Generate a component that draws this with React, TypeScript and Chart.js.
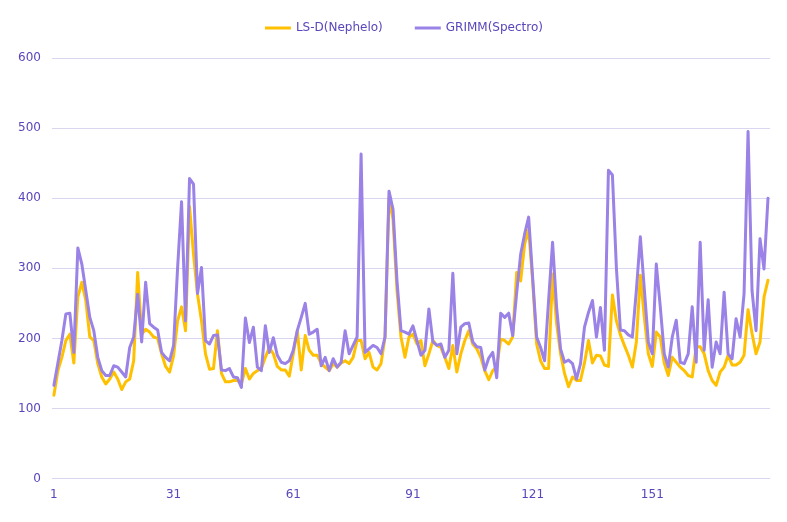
import React, { useEffect, useRef } from 'react';
import { Chart, registerables } from 'chart.js';

Chart.register(...registerables);

const categories: string[] = Array.from({ length: 180 }, (_, i) => String(i + 1));

const seriesNames = ['LS-D(Nephelo)', 'GRIMM(Spectro)'];

const lsdNephelo = [
  119, 154, 173, 197, 206, 165, 259, 280, 254, 202,
  197, 164, 145, 135, 142, 152, 142, 127, 138, 142,
  168, 294, 206, 213, 209, 202, 200, 178, 160, 152,
  175, 225, 245, 211, 388, 320, 263, 225, 178, 156,
  157, 211, 150, 138, 138, 140, 140, 135, 157, 142,
  150, 154, 157, 173, 187, 178, 160, 155, 155, 146,
  178, 211, 155, 204, 183, 176, 176, 164, 159, 154,
  164, 159, 165, 168, 164, 173, 197, 197, 171, 180,
  159, 155, 164, 202, 400, 370, 268, 202, 173, 202,
  206, 192, 197, 161, 178, 197, 190, 187, 173, 157,
  190, 152, 178, 197, 211, 192, 185, 173, 154, 141,
  154, 159, 199, 197, 192, 202, 294, 282, 335, 355,
  282, 192, 168, 157, 157, 292, 222, 178, 150, 131,
  145, 140, 140, 165, 197, 165, 176, 175, 162, 160,
  262, 225, 205, 190, 176, 159, 195, 290, 230, 178,
  160, 209, 202, 165, 147, 173, 166, 159, 154, 147,
  145, 188, 188, 178, 154, 140, 133, 152, 159, 176,
  162, 162, 166, 176, 241, 207, 178, 195, 259, 283,
];

const grimmSpectro = [
  133, 165, 197, 235, 236, 180, 329, 306, 268, 230,
  211, 173, 154, 147, 147, 161, 159, 152, 145, 187,
  202, 263, 195, 280, 221, 216, 212, 180, 173, 168,
  190, 300, 395, 225, 428, 420, 264, 301, 197, 192,
  204, 205, 155, 154, 157, 145, 144, 130, 229, 194,
  216, 159, 154, 218, 180, 201, 176, 166, 164, 168,
  183, 211, 230, 250, 206, 209, 213, 161, 173, 154,
  171, 159, 166, 211, 178, 190, 202, 463, 180, 185,
  190, 187, 178, 202, 410, 384, 282, 211, 209, 206,
  218, 197, 176, 183, 242, 195, 190, 192, 173, 183,
  293, 178, 216, 221, 222, 195, 188, 187, 155, 172,
  180, 144, 236, 230, 236, 204, 265, 320, 349, 373,
  287, 202, 187, 168, 254, 337, 245, 185, 166, 169,
  164, 142, 164, 216, 237, 254, 202, 244, 183, 440,
  433, 300, 212, 211, 205, 202, 268, 345, 270, 195,
  178, 306, 245, 178, 159, 202, 226, 166, 164, 178,
  245, 166, 337, 183, 255, 159, 195, 178, 266, 178,
  171, 228, 202, 264, 495, 268, 211, 342, 299, 400,
];

const yMin = 0;
const yMax = 600;
const yStep = 100;
const xLabelEvery = 30;

const YELLOW = '#FFC000';
const PURPLE = '#9A82E6';
const TEXT = '#5B45BC';
const GRID = '#DAD6F0';
const FONT = '"DejaVu Sans", Verdana, sans-serif';

const legendPlugin = {
  id: 'lineLegend',
  afterDraw(chart: any) {
    const ctx = chart.ctx;
    const ds = chart.data.datasets;
    ctx.save();
    ctx.font = '12px ' + FONT;
    const lineW = 26;
    const gapText = 5;
    const gapItem = 32;
    const widths = ds.map((d: any) => lineW + gapText + ctx.measureText(d.label).width);
    const total = widths.reduce((a: number, b: number) => a + b, 0) + gapItem * (ds.length - 1);
    const { left, right } = chart.chartArea;
    let x = (left + right) / 2 - 7 - total / 2;
    const y = 28;
    ds.forEach((d: any, i: number) => {
      ctx.strokeStyle = d.borderColor;
      ctx.lineWidth = 3;
      ctx.lineCap = 'butt';
      ctx.beginPath();
      ctx.moveTo(x, y);
      ctx.lineTo(x + lineW, y);
      ctx.stroke();
      ctx.fillStyle = TEXT;
      ctx.textBaseline = 'middle';
      ctx.textAlign = 'left';
      ctx.fillText(d.label, x + lineW + gapText, y);
      x += widths[i] + gapItem;
    });
    ctx.restore();
  },
};

export default function App() {
  const ref = useRef<HTMLCanvasElement | null>(null);

  useEffect(() => {
    if (!ref.current) return;
    Chart.defaults.font.family = FONT;
    const chart = new Chart(ref.current, {
      type: 'line',
      data: {
        labels: categories,
        datasets: [
          {
            label: seriesNames[0],
            data: lsdNephelo,
            borderColor: YELLOW,
            backgroundColor: YELLOW,
            borderWidth: 3,
            pointRadius: 0,
            tension: 0,
            fill: false,
            borderJoinStyle: 'round',
            borderCapStyle: 'round',
            order: 1,
          },
          {
            label: seriesNames[1],
            data: grimmSpectro,
            borderColor: PURPLE,
            backgroundColor: PURPLE,
            borderWidth: 3,
            pointRadius: 0,
            tension: 0,
            fill: false,
            borderJoinStyle: 'round',
            borderCapStyle: 'round',
            order: 0,
          },
        ],
      },
      options: {
        responsive: false,
        animation: false,
        layout: { padding: { left: 7, right: 17, top: 58, bottom: 19 } },
        plugins: {
          legend: { display: false },
          tooltip: { enabled: false },
        },
        scales: {
          x: {
            type: 'category',
            offset: true,
            grid: { display: false },
            border: { display: false },
            ticks: {
              autoSkip: false,
              maxRotation: 0,
              minRotation: 0,
              padding: 1,
              color: TEXT,
              font: { size: 12, family: FONT },
              callback: (_v: any, idx: number) => (idx % xLabelEvery === 0 ? categories[idx] : null),
            },
          },
          y: {
            min: yMin,
            max: yMax,
            border: { display: false },
            grid: { color: GRID, drawTicks: false, lineWidth: 1 },
            ticks: {
              stepSize: yStep,
              padding: 11,
              color: TEXT,
              font: { size: 12, family: FONT },
            },
          },
        },
      },
      plugins: [legendPlugin],
    } as any);
    return () => chart.destroy();
  }, []);

  return (
    <div style={{ position: 'absolute', left: 0, top: 0, width: 787, height: 522, background: '#fff' }}>
      <canvas ref={ref} width={787} height={522} style={{ width: 787, height: 522 }} />
    </div>
  );
}
